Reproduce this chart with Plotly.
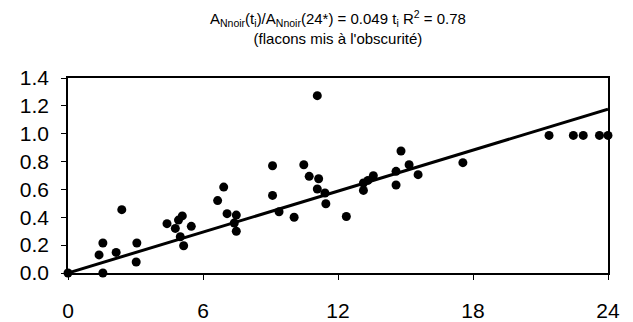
import plotly.graph_objects as go

t_values = [0, 1.55, 1.38, 1.55, 2.14, 2.39, 3.06, 3.03, 4.40, 4.77, 4.91, 5.08, 5.48,
            4.99, 5.14, 6.65, 6.92, 7.07, 7.48, 7.39, 7.48, 9.09, 9.09, 9.38, 10.05,
            10.48, 10.72, 11.08, 11.14, 11.08, 11.42, 11.46, 12.37, 13.13, 13.13, 13.33,
            13.57, 14.58, 14.58, 14.80, 15.16, 15.56, 17.55, 21.38, 22.46, 22.90, 23.62, 24.0]
ratio_values = [0, 0, 0.13, 0.215, 0.148, 0.455, 0.215, 0.079, 0.354, 0.32, 0.38, 0.41, 0.335,
                0.26, 0.196, 0.52, 0.617, 0.426, 0.416, 0.359, 0.30, 0.77, 0.557, 0.44, 0.40,
                0.777, 0.694, 1.273, 0.677, 0.603, 0.574, 0.497, 0.406, 0.593, 0.646, 0.665,
                0.698, 0.632, 0.73, 0.876, 0.777, 0.706, 0.792, 0.988, 0.988, 0.988, 0.988, 0.988]
slope = 0.049
fit_t = [0, 24]
fit_y = [slope * t for t in fit_t]

x_ticks = [0, 6, 12, 18, 24]
y_ticks = [0.0, 0.2, 0.4, 0.6, 0.8, 1.0, 1.2, 1.4]

title_text = ("A<sub>Nnoir</sub>(t<sub>i</sub>)/A<sub>Nnoir</sub>(24*) = 0.049 t<sub>i</sub> "
              "R<sup>2</sup> = 0.78<br>(flacons mis à l'obscurité)")

fig = go.Figure()
fig.add_trace(go.Scatter(x=fit_t, y=fit_y, mode="lines",
                         line=dict(color="black", width=3), cliponaxis=False))
fig.add_trace(go.Scatter(x=t_values, y=ratio_values, mode="markers",
                         marker=dict(color="black", size=9), cliponaxis=False))

font = "Liberation Sans, Arial, sans-serif"
fig.update_layout(
    width=633, height=322,
    margin=dict(l=68, r=25, t=78, b=49, autoexpand=False),
    paper_bgcolor="white", plot_bgcolor="white",
    showlegend=False,
    font=dict(family=font, color="black"),
)
fig.add_annotation(text=title_text, x=0.5, xref="paper", xanchor="center",
                   y=1 + (78 - 27) / 195, yref="paper", yanchor="middle",
                   showarrow=False, font=dict(family=font, size=15, color="black"))
fig.update_xaxes(range=[0, 24], tickvals=x_ticks, ticktext=[str(v) for v in x_ticks],
                 showgrid=False, zeroline=False, showline=True, mirror=True,
                 linecolor="black", linewidth=1.5, ticks="outside", ticklen=5,
                 tickcolor="black", tickfont=dict(size=21, family=font),
                 ticklabelstandoff=13, automargin=False)
fig.update_yaxes(range=[0, 1.4], tickvals=y_ticks, ticktext=[f"{v:.1f}" for v in y_ticks],
                 showgrid=False, zeroline=False, showline=True, mirror=True,
                 linecolor="black", linewidth=1.5, ticks="outside", ticklen=5,
                 tickcolor="black", tickfont=dict(size=21, family=font),
                 ticklabelstandoff=8, automargin=False)

fig.write_html("out.html")
